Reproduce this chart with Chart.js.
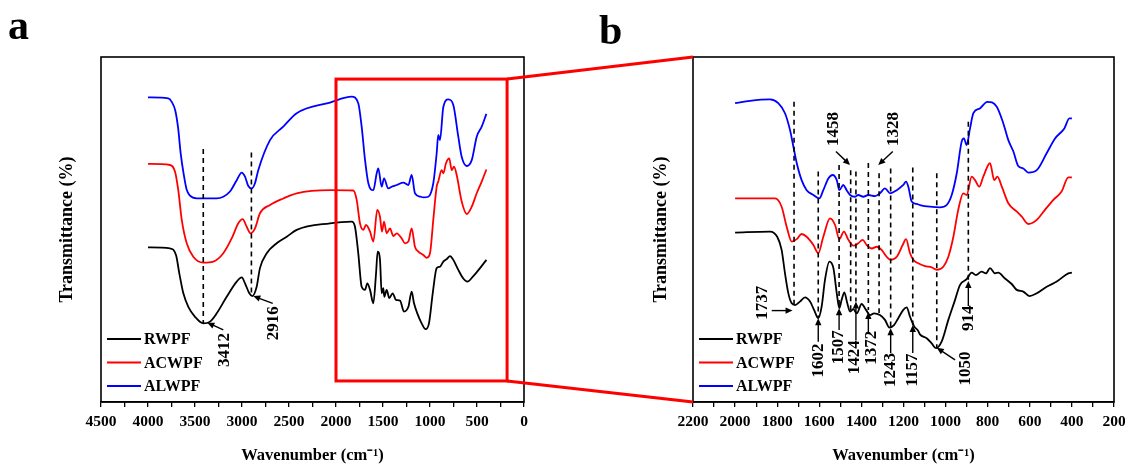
<!DOCTYPE html>
<html>
<head>
<meta charset="utf-8">
<script src="https://cdn.jsdelivr.net/npm/chart.js@4.4.1/dist/chart.umd.min.js"></script>
<style>
html, body { margin: 0; padding: 0; background: #fff; }
#wrap { position: relative; width: 1125px; height: 466px; }
#wrap canvas { position: absolute; left: 0; top: 0; }
</style>
</head>
<body>
<div id="wrap">
	<canvas id="chartA" width="1125" height="466"></canvas>
	<canvas id="chartB" width="1125" height="466"></canvas>
</div>
<script>
// series names
const seriesNames = ["RWPF", "ACWPF", "ALWPF"];

// panel a: full range spectra (wavenumber / transmittance, arbitrary units)
const aRwpfX = [4000, 3766, 3702, 3667, 3624, 3571, 3500, 3412, 3340, 3269,
	3163, 3056, 3003, 2968, 2922, 2890, 2844, 2809, 2737, 2631,
	2524, 2418, 2064, 1833, 1798, 1763, 1727, 1691, 1667, 1638,
	1603, 1574, 1557, 1532, 1514, 1497, 1486, 1461, 1433, 1397,
	1362, 1319, 1277, 1230, 1195, 1170, 1135, 1089, 1046, 1011,
	971, 929, 894, 858, 823, 787, 752, 699, 646, 603,
	539, 468, 400];
const aRwpfY = [44.8, 44.5, 42.6, 37.3, 31.5, 27.6, 24.7, 22.8, 23.3, 25.7,
	30.5, 34.9, 36.1, 34.4, 31.5, 30.7, 33.4, 38.8, 43.1, 46.0,
	47.9, 49.9, 51.8, 52.3, 50.8, 43.1, 33.4, 32.5, 34.4, 32.5,
	28.6, 37.3, 43.6, 41.2, 31.5, 33.0, 30.5, 32.5, 30.1, 31.5,
	29.6, 29.4, 26.2, 27.6, 32.0, 28.6, 25.7, 22.8, 21.1, 22.8,
	31.5, 38.8, 39.2, 40.7, 41.4, 42.3, 41.2, 38.3, 35.8, 34.9,
	36.5, 38.8, 41.2];

const aAcwpfX = [4000, 3766, 3713, 3678, 3641, 3588, 3518, 3412, 3305, 3199,
	3110, 3039, 2993, 2950, 2908, 2862, 2809, 2702, 2561, 2418,
	2064, 1816, 1780, 1745, 1709, 1681, 1638, 1603, 1561, 1532,
	1511, 1489, 1461, 1426, 1390, 1354, 1301, 1266, 1230, 1195,
	1160, 1124, 1071, 1035, 1000, 965, 929, 912, 876, 858,
	830, 795, 769, 745, 716, 663, 609, 556, 503, 450,
	400];
const aAcwpfY = [69.0, 68.7, 66.8, 61.4, 52.8, 46.0, 42.1, 40.4, 40.7, 43.1,
	47.4, 51.8, 53.0, 50.8, 48.9, 50.3, 54.7, 57.1, 59.0, 60.5,
	61.4, 61.3, 58.6, 51.8, 49.9, 51.3, 49.4, 46.5, 55.7, 53.7,
	49.4, 52.3, 48.9, 50.3, 48.1, 48.9, 47.4, 46.0, 46.5, 50.3,
	45.0, 43.6, 42.6, 41.8, 43.1, 52.8, 62.4, 63.9, 67.2, 66.3,
	69.2, 70.6, 67.2, 68.2, 65.8, 58.1, 54.5, 56.6, 60.5, 63.9,
	67.4];

const aAlwpfX = [4000, 3784, 3748, 3710, 3680, 3652, 3620, 3588, 3553, 3482,
	3412, 3269, 3199, 3128, 3056, 3003, 2968, 2933, 2897, 2862,
	2827, 2702, 2561, 2418, 2064, 1833, 1763, 1727, 1691, 1656,
	1603, 1567, 1550, 1514, 1489, 1444, 1400, 1354, 1284, 1230,
	1195, 1160, 1100, 1071, 1018, 965, 929, 912, 894, 858,
	805, 752, 699, 663, 609, 556, 503, 450, 400];
const aAlwpfY = [88.3, 88.0, 87.0, 84.5, 79.5, 72.0, 66.0, 61.5, 59.8, 59.0,
	59.0, 59.0, 59.5, 61.0, 64.3, 66.5, 65.3, 62.6, 61.9, 63.4,
	67.2, 75.9, 79.8, 83.7, 86.8, 88.5, 86.6, 79.8, 70.1, 63.4,
	61.4, 66.3, 67.7, 62.4, 64.8, 61.9, 62.5, 62.9, 63.6, 62.9,
	65.8, 60.5, 59.5, 59.3, 59.5, 63.4, 72.1, 77.4, 75.9, 85.6,
	87.7, 86.1, 76.9, 71.1, 68.4, 70.1, 76.9, 79.8, 83.5];

// panel b: fingerprint region 2000-400
const bRwpfX = [2000, 1834, 1800, 1779, 1763, 1747, 1731, 1715, 1692, 1668,
	1644, 1625, 1605, 1589, 1573, 1552, 1533, 1517, 1505, 1494,
	1481, 1467, 1454, 1438, 1422, 1399, 1378, 1359, 1340, 1312,
	1288, 1267, 1245, 1225, 1201, 1185, 1169, 1150, 1130, 1122,
	1090, 1066, 1046, 1019, 987, 955, 932, 900, 876, 856,
	829, 808, 789, 765, 750, 718, 686, 662, 631, 602,
	567, 520, 472, 417, 400];
const bRwpfY = [49.1, 49.4, 47.9, 44.1, 37.3, 31.5, 28.6, 28.1, 29.1, 30.3,
	29.1, 26.7, 24.3, 27.6, 35.4, 40.7, 38.8, 31.5, 27.2, 29.6,
	31.8, 28.6, 26.2, 26.9, 25.7, 28.4, 26.7, 25.2, 25.7, 25.2,
	23.8, 21.6, 22.3, 24.3, 26.7, 27.4, 24.7, 22.0, 20.6, 19.6,
	18.5, 17.0, 15.6, 17.5, 23.8, 29.6, 33.9, 35.6, 37.5, 36.8,
	37.8, 37.3, 38.8, 37.3, 37.5, 35.8, 34.2, 32.5, 32.0, 30.7,
	31.5, 33.4, 34.9, 37.3, 37.5];

const bAcwpfX = [2000, 1810, 1779, 1755, 1731, 1707, 1684, 1660, 1628, 1605,
	1581, 1549, 1525, 1505, 1483, 1462, 1438, 1415, 1394, 1375,
	1351, 1327, 1304, 1280, 1261, 1232, 1204, 1188, 1169, 1153,
	1130, 1098, 1066, 1042, 1011, 987, 963, 940, 916, 900,
	876, 860, 840, 821, 789, 769, 754, 733, 702, 662,
	638, 607, 567, 528, 488, 449, 417, 400];
const bAcwpfY = [59.0, 59.0, 56.6, 50.8, 46.5, 47.2, 48.7, 47.9, 45.5, 43.1,
	47.9, 53.2, 51.3, 47.2, 49.4, 47.0, 45.3, 46.0, 47.0, 45.5,
	44.5, 45.0, 44.1, 42.1, 41.2, 42.1, 45.5, 47.2, 43.1, 41.2,
	40.2, 39.4, 39.0, 38.3, 39.2, 42.1, 47.9, 55.7, 60.5, 60.0,
	65.3, 64.3, 62.4, 65.3, 69.2, 64.3, 65.3, 62.4, 57.6, 55.2,
	53.7, 51.6, 52.8, 55.7, 58.6, 61.0, 65.1, 65.1];

const bAlwpfX = [2000, 1929, 1834, 1795, 1763, 1739, 1723, 1707, 1684, 1660,
	1628, 1600, 1581, 1557, 1536, 1517, 1505, 1486, 1470, 1454,
	1430, 1415, 1391, 1367, 1335, 1312, 1288, 1264, 1232, 1201,
	1188, 1177, 1161, 1137, 1122, 1074, 1027, 995, 971, 947,
	924, 913, 900, 884, 868, 837, 802, 757, 726, 702,
	678, 655, 631, 607, 567, 520, 480, 436, 412, 400];
const bAlwpfY = [86.6, 87.3, 87.7, 86.6, 83.7, 78.8, 74.0, 69.2, 64.3, 61.4,
	60.0, 59.0, 61.4, 64.8, 65.8, 64.3, 61.4, 62.9, 61.4, 60.0,
	59.5, 60.0, 59.5, 60.0, 59.7, 60.5, 61.9, 60.5, 61.4, 62.9,
	63.9, 62.4, 58.1, 57.4, 57.1, 56.6, 56.4, 57.1, 60.0, 66.3,
	75.4, 76.4, 74.5, 79.3, 83.7, 85.1, 87.0, 85.6, 80.8, 75.9,
	72.6, 68.4, 67.7, 66.5, 67.2, 72.1, 76.4, 79.3, 82.2, 82.2];

// peak markers, in data units: dashed line [wavenumber, top, bottom], arrow from/to, label centre
const aMarks = [
	{ text: "3412", line: [3412, 73.3, 22.8], from: [3199, 20.9], to: [3369, 23.0], at: [3181, 15.1] },
	{ text: "2916", line: [2900, 72.3, 30.7], from: [2673, 28.6], to: [2880, 30.7], at: [2660, 22.8] },
];
const bMarks = [
	{ text: "1737", line: [1720, 87.0, 28.1], from: [1826, 26.5], to: [1727, 26.5], at: [1869, 28.8] },
	{ text: "1602", line: [1605, 66.8, 24.3], from: [1605, 17.5], to: [1605, 24.3], at: [1605, 12.0] },
	{ text: "1507", line: [1506, 68.7, 27.2], from: [1506, 20.9], to: [1506, 27.2], at: [1506, 15.9] },
	{ text: "1458", line: [1451, 67.2, 25.8], from: [1521, 72.6], to: [1454, 68.7], at: [1530, 79.1] },
	{ text: "1424", line: [1426, 66.8, 29.1], from: [1426, 18.0], to: [1426, 29.1], at: [1430, 13.0] },
	{ text: "1372", line: [1367, 69.3, 26.7], from: [1367, 20.0], to: [1367, 26.1], at: [1350, 15.7] },
	{ text: "1328", line: [1316, 66.3, 25.8], from: [1251, 72.6], to: [1320, 68.7], at: [1245, 79.1] },
	{ text: "1243", line: [1261, 67.7, 21.4], from: [1261, 14.2], to: [1261, 21.4], at: [1261, 9.3] },
	{ text: "1157", line: [1156, 68.0, 22.3], from: [1156, 14.2], to: [1156, 22.3], at: [1156, 9.3] },
	{ text: "1050", line: [1042, 66.3, 15.7], from: [955, 12.2], to: [1042, 15.7], at: [903, 9.7] },
	{ text: "914", line: [892, 81.2, 35.1], from: [892, 27.8], to: [892, 35.1], at: [892, 24.3] },
];

// zoomed region outlined in panel a
const zoomX = [2000, 180];
const zoomY = [93.6, 6.1];

const colors = ["#000000", "#ff0000", "#0000ff"];
const serif = "'Liberation Serif', 'Times New Roman', serif";

function pts(xs, ys) {
	return xs.map((x, i) => ({ x: x, y: ys[i] }));
}

function toPx(chart, w, v) {
	return [chart.scales.x.getPixelForValue(w), chart.scales.y.getPixelForValue(v)];
}

function drawArrow(ctx, x1, y1, x2, y2) {
	const ang = Math.atan2(y2 - y1, x2 - x1);
	const hl = 7, hw = 3.2;
	ctx.beginPath();
	ctx.moveTo(x1, y1);
	ctx.lineTo(x2 - Math.cos(ang) * hl * 0.8, y2 - Math.sin(ang) * hl * 0.8);
	ctx.stroke();
	ctx.beginPath();
	ctx.moveTo(x2, y2);
	ctx.lineTo(x2 - hl * Math.cos(ang) + hw * Math.sin(ang), y2 - hl * Math.sin(ang) - hw * Math.cos(ang));
	ctx.lineTo(x2 - hl * Math.cos(ang) - hw * Math.sin(ang), y2 - hl * Math.sin(ang) + hw * Math.cos(ang));
	ctx.closePath();
	ctx.fill();
}

function panelPlugin(opts) {
	return {
		id: "panel" + opts.letter,
		afterDatasetsDraw(chart) {
			const ctx = chart.ctx;
			const a = chart.chartArea;
			ctx.save();
			// frame
			ctx.strokeStyle = "#000";
			ctx.lineWidth = 1.6;
			ctx.strokeRect(a.left, a.top, a.right - a.left, a.bottom - a.top);

			// dashed peak lines
			ctx.setLineDash([5, 4]);
			opts.marks.forEach(m => {
				const p1 = toPx(chart, m.line[0], m.line[1]);
				const p2 = toPx(chart, m.line[0], m.line[2]);
				ctx.beginPath();
				ctx.moveTo(p1[0], p1[1]);
				ctx.lineTo(p2[0], p2[1]);
				ctx.stroke();
			});
			ctx.setLineDash([]);

			// arrows
			ctx.fillStyle = "#000";
			ctx.lineWidth = 1.4;
			opts.marks.forEach(m => {
				const t = toPx(chart, m.from[0], m.from[1]);
				const h = toPx(chart, m.to[0], m.to[1]);
				drawArrow(ctx, t[0], t[1], h[0], h[1]);
			});

			// rotated peak labels
			ctx.font = "bold 17px " + serif;
			ctx.textAlign = "center";
			ctx.textBaseline = "middle";
			opts.marks.forEach(m => {
				const p = toPx(chart, m.at[0], m.at[1]);
				ctx.save();
				ctx.translate(p[0], p[1]);
				ctx.rotate(-Math.PI / 2);
				ctx.fillText(m.text, 0, 0);
				ctx.restore();
			});

			// legend inside the plot, bottom left
			ctx.font = "bold 16px " + serif;
			ctx.textAlign = "left";
			chart.data.datasets.forEach((ds, i) => {
				const y = a.bottom - 63 + i * 23.5;
				ctx.strokeStyle = ds.borderColor;
				ctx.lineWidth = 2;
				ctx.beginPath();
				ctx.moveTo(a.left + 6, y);
				ctx.lineTo(a.left + 40, y);
				ctx.stroke();
				ctx.fillStyle = "#000";
				ctx.fillText(ds.label, a.left + 43, y + 1);
			});

			// panel letter
			ctx.font = "bold 42px " + serif;
			ctx.textBaseline = "alphabetic";
			ctx.fillStyle = "#000";
			ctx.fillText(opts.letter, opts.letterX, opts.letterY);

			if (opts.extra) opts.extra(chart);
			ctx.restore();
		}
	};
}

function axisOptions(min, max, step, labelStep, yWidth, yTitlePad) {
	return {
		x: {
			type: "linear",
			reverse: true,
			min: min,
			max: max,
			afterFit(s) { s.height = 64; s.paddingLeft = 0; s.paddingRight = 0; },
			ticks: {
				stepSize: step,
				autoSkip: false,
				maxRotation: 0,
				padding: 6,
				color: "#000",
				font: { family: serif, weight: "bold", size: 15.5 },
				callback: v => (v % labelStep === 0 ? String(v) : "")
			},
			grid: { drawOnChartArea: false, drawTicks: true, tickLength: 5, color: "#000", lineWidth: 1.3 },
			border: { color: "#000", width: 1.6 },
			title: {
				display: true,
				text: "Wavenumber (cm\u207B\u00B9)",
				color: "#000",
				font: { family: serif, weight: "bold", size: 16.5 },
				padding: { top: 0, bottom: 0 }
			}
		},
		y: {
			min: 0,
			max: 100,
			afterFit(s) { s.width = yWidth; },
			ticks: { display: false },
			grid: { display: false },
			border: { display: false },
			title: {
				display: true,
				text: "Transmittance (%)",
				color: "#000",
				font: { family: serif, weight: "bold", size: 18 },
				padding: { top: yTitlePad, bottom: 0 }
			}
		}
	};
}

function makeDatasets(sets) {
	return sets.map((s, i) => ({
		label: seriesNames[i],
		data: pts(s[0], s[1]),
		borderColor: colors[i],
		backgroundColor: colors[i],
		borderWidth: 1.8,
		pointRadius: 0,
		fill: false,
		cubicInterpolationMode: "monotone"
	}));
}

const chartA = new Chart("chartA", {
	type: "line",
	data: {
		datasets: makeDatasets([[aRwpfX, aRwpfY], [aAcwpfX, aAcwpfY], [aAlwpfX, aAlwpfY]])
	},
	options: {
		responsive: false,
		animation: false,
		layout: { autoPadding: false, padding: { left: 0, right: 601, top: 57, bottom: 0 } },
		plugins: { legend: { display: false }, tooltip: { enabled: false } },
		scales: axisOptions(0, 4500, 250, 500, 101, 57)
	},
	plugins: [panelPlugin({
		letter: "a", letterX: 8, letterY: 39, marks: aMarks,
		extra(chart) {
			const ctx = chart.ctx;
			const p1 = toPx(chart, zoomX[0], zoomY[0]);
			const p2 = toPx(chart, zoomX[1], zoomY[1]);
			ctx.strokeStyle = "#ff0000";
			ctx.lineWidth = 3;
			ctx.strokeRect(p1[0], p1[1], p2[0] - p1[0], p2[1] - p1[1]);
		}
	})]
});

const chartB = new Chart("chartB", {
	type: "line",
	data: {
		datasets: makeDatasets([[bRwpfX, bRwpfY], [bAcwpfX, bAcwpfY], [bAlwpfX, bAlwpfY]])
	},
	options: {
		responsive: false,
		animation: false,
		layout: { autoPadding: false, padding: { left: 0, right: 11, top: 57, bottom: 0 } },
		plugins: { legend: { display: false }, tooltip: { enabled: false } },
		scales: axisOptions(200, 2200, 100, 200, 693, 651)
	},
	plugins: [panelPlugin({
		letter: "b", letterX: 599, letterY: 44, marks: bMarks,
		extra(chart) {
			// connectors from the red box in panel a to the corners of panel b
			const ctx = chart.ctx;
			const a = chart.chartArea;
			const p1 = toPx(chartA, zoomX[0], zoomY[0]);
			const p2 = toPx(chartA, zoomX[1], zoomY[1]);
			ctx.strokeStyle = "#ff0000";
			ctx.lineWidth = 3;
			ctx.beginPath();
			ctx.moveTo(p2[0], p1[1]);
			ctx.lineTo(a.left, a.top);
			ctx.moveTo(p2[0], p2[1]);
			ctx.lineTo(a.left, a.bottom);
			ctx.stroke();
		}
	})]
});
</script>
</body>
</html>
